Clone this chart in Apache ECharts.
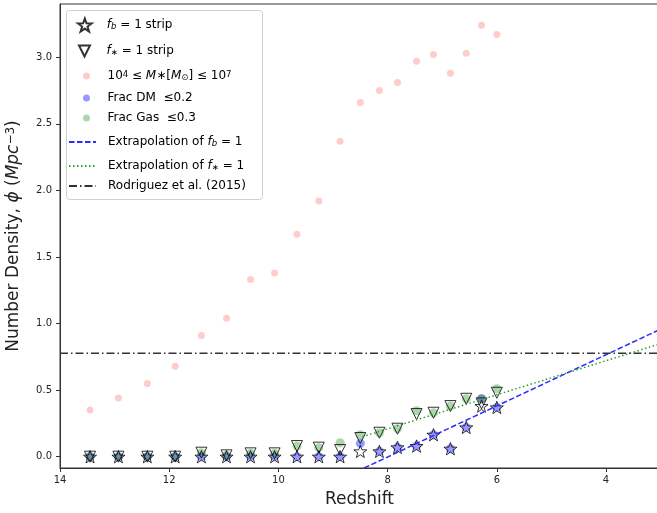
<!DOCTYPE html>
<html>
<head>
<meta charset="utf-8">
<script src="https://cdn.jsdelivr.net/npm/echarts@6/dist/echarts.min.js"></script>
<style>html,body{margin:0;padding:0;background:#fff}#c{width:657px;height:513px}</style>
</head>
<body>
<div id="c"></div>
<script>
// ---- data ----
var redshift = [13.45, 12.93, 12.40, 11.89, 11.41, 10.95, 10.51, 10.07, 9.66, 9.26, 8.87, 8.50, 8.15, 7.82, 7.47, 7.16, 6.85, 6.56, 6.28, 6.00];
var massDensity = [0.35, 0.44, 0.55, 0.68, 0.91, 1.04, 1.33, 1.38, 1.67, 1.92, 2.37, 2.66, 2.75, 2.81, 2.97, 3.02, 2.88, 3.03, 3.24, 3.17];
var fbStrip = [0, 0, 0, 0, 0, 0, 0, 0, 0, 0, 0, 0.04, 0.04, 0.07, 0.08, 0.165, 0.06, 0.22, 0.38, 0.37];
var fsStrip = [0, 0, 0, 0, 0.03, 0.01, 0.025, 0.025, 0.08, 0.068, 0.05, 0.14, 0.18, 0.21, 0.32, 0.33, 0.38, 0.435, 0.40, 0.48];
var fracDM = [0, 0, 0, 0, 0, 0, 0, 0, 0, 0, 0, 0.10, 0.04, 0.07, 0.08, 0.165, 0.06, 0.22, 0.435, 0.37];
var fracGas = [0, 0, 0, 0, 0.03, 0.01, 0.025, 0.025, 0.08, 0.068, 0.105, 0.165, 0.18, 0.21, 0.345, 0.33, 0.38, 0.435, 0.435, 0.51];
var extrapFbZ = [8.43, 3.03], extrapFbY = [-0.085, 0.952];
var extrapFsZ = [8.46, 3.03], extrapFsY = [0.15, 0.845];
var rodriguezZ = [14, 3.03], rodriguezY = [0.777, 0.777];
var xTicks = [4, 6, 8, 10, 12, 14];
var yTicks = [0, 0.5, 1.0, 1.5, 2.0, 2.5, 3.0];

function pairs(xs, ys) { return xs.map(function (x, i) { return [x, ys[i]]; }); }

var STAR = 'path://M0,-10 L2.35,-3.24 L9.51,-3.09 L3.8,1.24 L5.88,8.09 L0,4 L-5.88,8.09 L-3.8,1.24 L-9.51,-3.09 L-2.35,-3.24 Z';
var TRI = 'path://M0,0 L2,0 L1,2 Z';
var FONT = 'DejaVu Sans';

var rich = {
  n: {fontSize: 12, fontFamily: FONT, color: '#000'},
  i: {fontSize: 12, fontFamily: FONT, fontStyle: 'italic', color: '#000'},
  sub: {fontSize: 8.5, fontFamily: FONT, fontStyle: 'italic', color: '#000', verticalAlign: 'bottom', lineHeight: 9, padding: [6, 0, 0, 0]},
  sup: {fontSize: 8.5, fontFamily: FONT, color: '#000', verticalAlign: 'top', lineHeight: 9, padding: [0, 0, 8, 0]}
};
var labels = {
  'fb': '{i|f}{sub|b}{n| = 1 strip}',
  'fs': '{i|f}{sub|∗}{n| = 1 strip}',
  'mass': '{n|10}{sup|4}{n| ≤ }{i|M}{n|∗[}{i|M}{sub|⊙}{n|] ≤ 10}{sup|7}',
  'dm': '{n|Frac DM  ≤0.2}',
  'gas': '{n|Frac Gas  ≤0.3}',
  'efb': '{n|Extrapolation of }{i|f}{sub|b}{n| = 1}',
  'efs': '{n|Extrapolation of }{i|f}{sub|∗}{n| = 1}',
  'rod': '{n|Rodriguez et al. (2015)}'
};

function mkLegend(name, top, left, iw, ih, padLeft, isLine) {
  var l = {
    data: [name], orient: 'vertical', top: top, left: left, padding: 0,
    itemWidth: iw, itemHeight: ih, itemGap: 0, selectedMode: false,
    formatter: function (n) { return labels[n]; },
    textStyle: {fontFamily: FONT, fontSize: 12, color: '#000', rich: rich, padding: [0, 0, 0, padLeft]}
  };
  if (isLine) { l.itemStyle = {opacity: 0, color: 'rgba(0,0,0,0)', borderWidth: 0}; }
  return l;
}

var chart = echarts.init(document.getElementById('c'), null, {renderer: 'canvas'});
chart.setOption({
  animation: false,
  textStyle: {fontFamily: FONT},
  grid: {left: 60, right: -2, top: 4, bottom: 45, show: true, borderColor: '#333', borderWidth: 1,
         containLabel: false, outerBoundsMode: 'none'},
  xAxis: {
    type: 'value', inverse: true, min: 3.03, max: 14,
    name: 'Redshift', nameLocation: 'middle', nameGap: 23,
    nameTextStyle: {fontSize: 17, color: '#222', fontFamily: FONT},
    axisLine: {show: true, onZero: false, lineStyle: {color: '#333'}},
    axisTick: {show: true, length: 4, lineStyle: {color: '#333'}, customValues: xTicks},
    axisLabel: {fontSize: 10, color: '#222', margin: 7, customValues: xTicks},
    splitLine: {show: false}
  },
  yAxis: {
    type: 'value', min: -0.085, max: 3.40,
    name: 'Number Density, {i|ϕ} ({i|Mpc}{sup|−3})', nameLocation: 'middle', nameGap: 36, nameRotate: 90,
    nameTextStyle: {fontSize: 17, color: '#222', fontFamily: FONT, rich: {
      i: {fontSize: 17, fontStyle: 'italic', fontFamily: FONT, color: '#222'},
      sup: {fontSize: 12, fontFamily: FONT, color: '#222', verticalAlign: 'top', lineHeight: 12, padding: [0, 0, 8, 0]}
    }},
    axisLine: {show: true, lineStyle: {color: '#333'}},
    axisTick: {show: true, length: 4, lineStyle: {color: '#333'}, customValues: yTicks},
    axisLabel: {fontSize: 10, color: '#222', margin: 8, customValues: yTicks, formatter: function (v) { return v.toFixed(1); }},
    splitLine: {show: false}
  },
  legend: [
    mkLegend('fb', 16, 77, 32, 13, 1, false),
    mkLegend('fs', 42, 78, 32, 11, 1, false),
    mkLegend('mass', 67, 83, 32, 7, 0, false),
    mkLegend('dm', 92, 83, 32, 7, 0, false),
    mkLegend('gas', 112, 83, 32, 7, 0, false),
    mkLegend('efb', 133, 68, 27, 14, 7, true),
    mkLegend('efs', 157, 68, 27, 14, 7, true),
    mkLegend('rod', 180, 68, 27, 14, 7, true)
  ],
  graphic: [{
    type: 'rect', left: 66, top: 10, z: -1,
    shape: {width: 196, height: 189, r: 3},
    style: {fill: '#fff', stroke: '#d0d0d0', lineWidth: 1}
  }],
  series: [
    {name: 'mass', type: 'scatter', data: pairs(redshift, massDensity), symbol: 'circle', symbolSize: 7,
     itemStyle: {color: 'rgba(255,0,0,0.25)'}, z: 2},
    {name: 'dm', type: 'scatter', data: pairs(redshift, fracDM), symbol: 'circle', symbolSize: 9,
     itemStyle: {color: 'rgba(0,0,255,0.5)'}, z: 2},
    {name: 'gas', type: 'scatter', data: pairs(redshift, fracGas), symbol: 'circle', symbolSize: 9,
     itemStyle: {color: 'rgba(0,128,0,0.4)'}, z: 2},
    {name: 'fb', type: 'scatter', data: pairs(redshift, fbStrip), symbol: STAR, symbolSize: 13, symbolKeepAspect: true,
     itemStyle: {color: 'rgba(0,0,0,0)', borderColor: '#000', borderWidth: 1}, z: 3},
    {name: 'fs', type: 'scatter', data: pairs(redshift, fsStrip), symbol: TRI, symbolSize: 11,
     itemStyle: {color: 'rgba(0,0,0,0)', borderColor: '#000', borderWidth: 1}, z: 3},
    {name: 'efb', type: 'line', data: pairs(extrapFbZ, extrapFbY), symbol: 'none', showSymbol: false,
     lineStyle: {color: '#2b2bff', width: 1.5, type: [5.5, 2.5]}, itemStyle: {color: '#2b2bff'}, z: 4},
    {name: 'efs', type: 'line', data: pairs(extrapFsZ, extrapFsY), symbol: 'none', showSymbol: false,
     lineStyle: {color: '#2ca02c', width: 1.5, type: [1.5, 2.5]}, itemStyle: {color: '#2ca02c'}, z: 4},
    {name: 'rod', type: 'line', data: pairs(rodriguezZ, rodriguezY), symbol: 'none', showSymbol: false,
     lineStyle: {color: '#333', width: 1.5, type: [8, 3, 1.5, 3]}, itemStyle: {color: '#333'}, z: 4}
  ]
});
</script>
</body>
</html>
